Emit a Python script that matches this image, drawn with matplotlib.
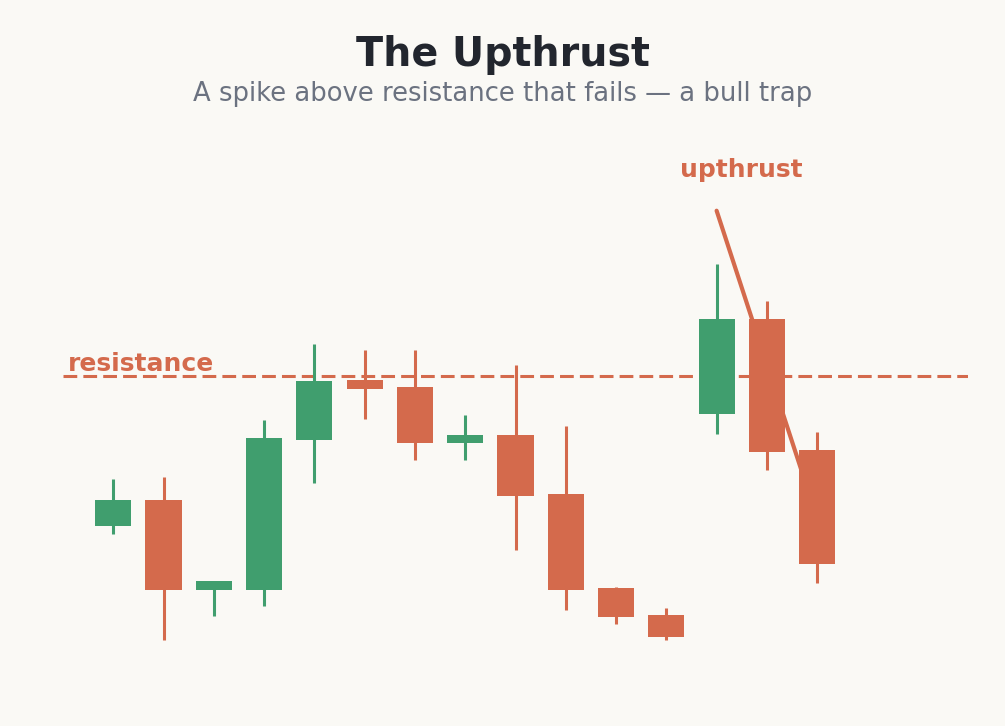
import numpy as np
import matplotlib.pyplot as plt

# candle data (arbitrary price units)
opens = [85.0, 87.6, 78.6, 78.6, 93.6, 99.6, 98.9, 93.3, 94.1, 88.2, 78.8, 76.1, 96.2, 105.7, 92.6]
closes = [87.6, 78.6, 79.5, 93.8, 99.5, 98.7, 93.3, 94.1, 88.0, 78.6, 75.9, 73.9, 105.7, 92.4, 81.2]
highs = [89.7, 89.9, 79.5, 95.6, 103.2, 102.6, 102.6, 96.1, 101.1, 95.0, 78.9, 76.8, 111.2, 107.5, 94.4]
lows = [84.2, 73.6, 76.0, 77.0, 89.3, 95.7, 91.6, 91.6, 82.6, 76.6, 75.2, 73.6, 94.2, 90.6, 79.3]
resistance = 100.0
trap_x = [12, 13.8]
trap_y = [116.5, 88.8]

GREEN = "#409e6e"
RED = "#d46a4c"
BG = "#faf9f5"

fig = plt.figure(figsize=(10.05, 7.26), dpi=100, facecolor=BG)
ax = fig.add_axes([63 / 1005, 36 / 726, 905 / 1005, 560 / 726])
ax.set_facecolor(BG)
ax.set_xlim(-1, 17)
ax.set_ylim(68.57, 124.57)
ax.axis("off")

x = np.arange(len(opens))
o = np.array(opens)
c = np.array(closes)
colors = [GREEN if cc >= oo else RED for oo, cc in zip(o, c)]

ax.axhline(resistance, color=RED, lw=2.2, linestyle=(0, (4.5, 2)), zorder=1)
ax.plot(trap_x, trap_y, color=RED, lw=3, solid_capstyle="round", zorder=1.5)

ax.vlines(x, lows, highs, colors=colors, lw=2.2, zorder=2)
ax.bar(x, np.abs(c - o), bottom=np.minimum(o, c), width=0.72, color=colors, zorder=3)

ax.text(-0.9, resistance + 0.5, "resistance", color=RED, fontsize=18,
        fontweight="bold", ha="left", va="baseline")
ax.text(12.49, 119.9, "upthrust", color=RED, fontsize=18,
        fontweight="bold", ha="center", va="baseline")

fig.text(0.5, 1 - 55 / 726, "The Upthrust", color="#22262e", fontsize=28.5,
         fontweight="bold", ha="center", va="center")
fig.text(0.5, 1 - 94 / 726, "A spike above resistance that fails — a bull trap",
         color="#6b7280", fontsize=18.6, ha="center", va="center")

fig.savefig("out.png", dpi=100, facecolor=BG)
